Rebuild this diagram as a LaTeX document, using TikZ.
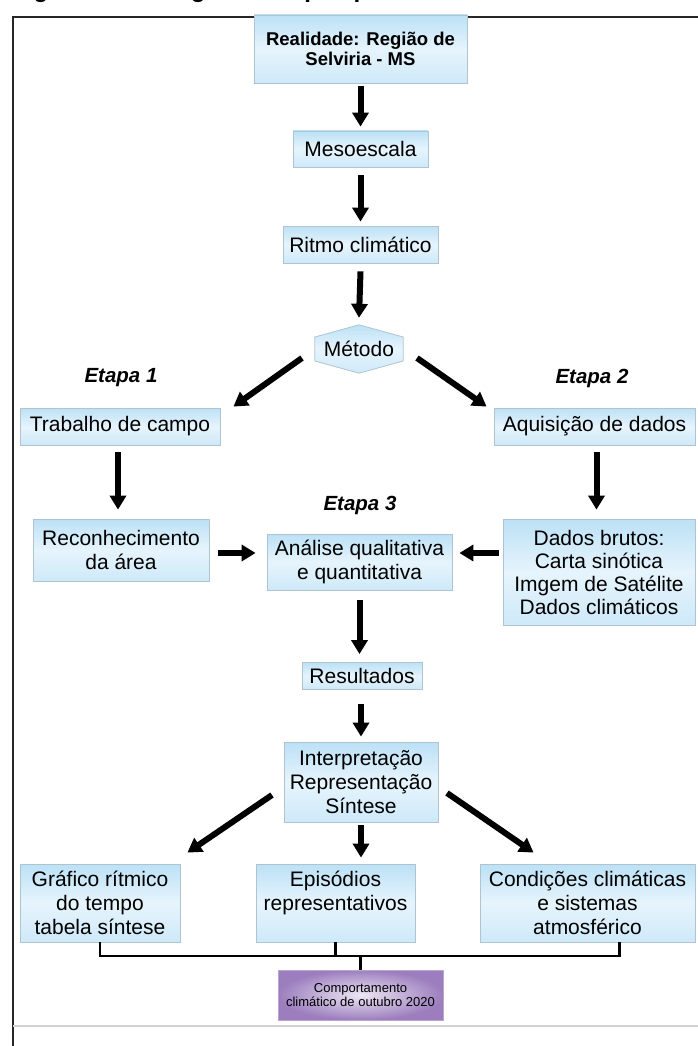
\documentclass[tikz,border=0pt]{standalone}
\usepackage{fontspec}
\setmainfont{Liberation Sans}
\usepackage{xcolor}
\usetikzlibrary{arrows.meta}
\usetikzlibrary{calc}
\usetikzlibrary{backgrounds}
\definecolor{boxtop}{RGB}{188,225,246}
\definecolor{boxmid}{RGB}{230,244,252}
\definecolor{boxbot}{RGB}{206,233,249}
\definecolor{boxedge}{RGB}{176,196,208}
\definecolor{lilas}{RGB}{156,126,190}
\definecolor{lilasin}{RGB}{236,230,244}
\tikzstyle{fundo}=[draw=boxedge,line width=.8pt,top color=boxtop,bottom color=boxbot,middle color=boxmid]
\tikzstyle{box}  =[fundo,inner sep=0pt,align=center,font=\fontsize{21}{24}\selectfont]
\tikzstyle{arr}  =[line width=6pt,-{Triangle[length=14pt,width=16pt]}]
\tikzstyle{brk}  =[line width=2.5pt]
\tikzstyle{etapa}=[font=\fontsize{20.5}{24}\selectfont\bfseries\itshape]

\begin{document}
\begin{tikzpicture}[x=1pt,y=-1pt]
	\useasboundingbox (0,0) rectangle (698,1046);
	\node[anchor=base west,inner sep=0pt,font=\fontsize{24}{24}\selectfont\bfseries] (titulo) at (12,-2) {Figura 1 - Fluxograma da pesquisa};
	\draw[line width=2.5pt,black!85] (13,1046) -- (13,17) -- (698,17);
	\draw[black!18,line width=1.2pt] (13,1026) -- (698,1026);
	% coluna central
	\node[box,minimum width=213pt,minimum height=68pt,font=\fontsize{18.5}{19.5}\selectfont\bfseries] (real) at (360.5,49) {Realidade: Região de\\Selviria - MS};
	\node[box,minimum width=135pt,minimum height=36pt] (meso)  at (360.5,149)   {Mesoescala};
	\node[box,minimum width=155pt,minimum height=37pt] (ritmo) at (360.5,244.5) {Ritmo climático};
	\node[minimum width=88pt,minimum height=48pt,inner sep=0pt,font=\fontsize{21}{24}\selectfont] (metodo) at (359,349) {Método};
	\begin{scope}[on background layer]
		\shade[fundo] (metodo.north) -- ($(metodo.east)+(0,-12)$) -- ($(metodo.east)+(0,12)$) -- (metodo.south)
			-- ($(metodo.west)+(0,12)$) -- ($(metodo.west)+(0,-12)$) -- cycle;
	\end{scope}
	% etapas
	\node[etapa] (et1) at (121,378) {Etapa 1};
	\node[etapa] (et2) at (592,378) {Etapa 2};
	\node[etapa] (et3) at (360,505) {Etapa 3};
	\node[box,minimum width=200pt,minimum height=37pt] (trab)  at (120,426.5)   {Trabalho de campo};
	\node[box,minimum width=201pt,minimum height=37pt] (aquis) at (594.5,426.5) {Aquisição de dados};
	\node[box,minimum width=176pt,minimum height=62pt] (recon) at (121,550)     {Reconhecimento\\da área};
	\node[box,minimum width=185pt,minimum height=56pt] (anal)  at (359.5,562)   {Análise qualitativa\\e quantitativa};
	\node[box,minimum width=192pt,minimum height=106pt,font=\fontsize{21}{23}\selectfont] (dados) at (599,572) {Dados brutos:\\Carta sinótica\\Imgem de Satélite\\Dados climáticos};
	\node[box,minimum width=120pt,minimum height=27pt] (resul)  at (362,676) {Resultados};
	\node[box,minimum width=154pt,minimum height=80pt] (interp) at (361,782) {Interpretação\\Representação\\Síntese};
	% produtos
	\node[box,minimum width=160pt,minimum height=78pt] (graf) at (100,903)   {Gráfico rítmico\\do tempo\\tabela síntese};
	\node[box,minimum width=159pt,minimum height=78pt] (epis) at (335.5,903) {Episódios\\representativos\\\mbox{}};
	\node[box,minimum width=215pt,minimum height=78pt] (cond) at (587.5,903) {Condições climáticas\\e sistemas\\atmosférico};
	\node[draw=lilas!70,line width=.8pt,inner color=lilasin,outer color=lilas,minimum width=165pt,minimum height=50pt,align=center,font=\fontsize{13}{14.5}\selectfont] (comp) at (360.5,995) {Comportamento\\climático de outubro 2020};
	% setas
	\draw[arr] ($(real.south)+(0,3)$)  -- ($(meso.north)+(0,-4)$);
	\draw[arr] ($(meso.south)+(0,8)$)  -- ($(ritmo.north)+(0,-4)$);
	\draw[arr] ($(ritmo.south)+(0,8)$) -- ($(metodo.north)+(0,-7)$);
	\draw[arr] ($(metodo)+(-57,9)$) -- ($(trab.north east)+(13,-1)$);
	\draw[arr] ($(metodo)+(58,9)$)  -- ($(aquis.north west)+(-7,-1)$);
	\draw[arr] ($(trab.south)+(-2,7)$)  -- ($(trab.south |- recon.north)+(-2,-9)$);
	\draw[arr] ($(aquis.south)+(2,7)$)  -- ($(aquis.south |- dados.north)+(2,-9)$);
	\draw[arr] ($(recon.east)+(9,3)$) -- ($(anal.west |- recon.east)+(-11,3)$);
	\draw[arr] ($(dados.west |- recon.east)+(-4,3)$) -- ($(anal.east |- recon.east)+(7,3)$);
	\draw[arr] ($(anal.south)+(0,10)$)  -- ($(anal.south |- resul.north)+(0,-8)$);
	\draw[arr] ($(resul.south)+(-1,14)$) -- ($(resul.south |- interp.north)+(-1,-5)$);
	\draw[arr] ($(interp)+(-89,13)$) -- ($(graf.north east)+(7,-11)$);
	\draw[arr] ($(interp)+(86,11)$)  -- ($(cond.north west)+(54,-11)$);
	\draw[arr] ($(interp.south)+(0,3)$) -- ($(interp.south |- epis.north)+(0,-6)$);
	% chave
	\coordinate (bar) at (360,956);
	\draw[brk] (graf.south) |- ($(cond.south |- bar)+(32,0)$) -- ($(cond.south)+(32,0)$);
	\draw[brk] (epis.south) -- (epis.south |- bar);
	\draw[brk] (comp.north) -- (comp.north |- bar);
\end{tikzpicture}
\end{document}
